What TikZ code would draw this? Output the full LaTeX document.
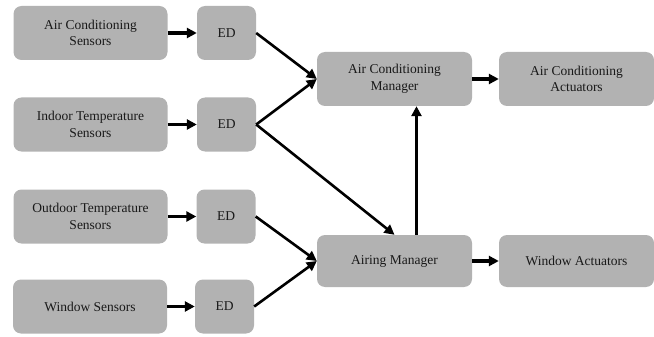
\documentclass[tikz,border=0pt]{standalone}
\usepackage{fontspec}
\setmainfont{Liberation Serif}
\newfontfamily\boxfont{Liberation Serif}
\usetikzlibrary{arrows.meta}
\begin{document}
\begin{tikzpicture}[x=1pt,y=-1pt,
  box/.style={fill=black!30,rounded corners=8pt,align=center,inner sep=0pt,
    minimum height=54pt,text=black!90,font=\boxfont\fontsize{13.5}{16.5}\selectfont},
  sensor/.style={box,minimum width=154pt},
  ed/.style={box,minimum width=59pt},
  manager/.style={box,minimum width=155pt},
  link/.style={draw,line width=2.6pt,-{Triangle[length=10pt,width=10pt]}}]
\useasboundingbox (0,0) rectangle (654,337);

\node[sensor] (acs) at (90.5,33) {Air Conditioning\\Sensors};
\node[sensor] (its) at (90.5,124.5) {Indoor Temperature\\Sensors};
\node[sensor] (ots) at (90.5,216.5) {Outdoor Temperature\\Sensors};
\node[sensor] (ws) at (90,306.5) {Window Sensors};

\node[ed] (ed1) at (226.5,33) {ED};
\node[ed] (ed2) at (226.5,124.5) {ED};
\node[ed] (ed3) at (226,216.5) {ED};
\node[ed] (ed4) at (224.5,306.5) {ED};

\node[manager] (acm) at (394.5,79) {Air Conditioning\\Manager};
\node[manager] (aca) at (576.5,79) {Air Conditioning\\Actuators};
\node[manager,minimum height=52pt] (am) at (394.5,261) {Airing Manager};
\node[manager,minimum height=52pt] (wa) at (576.5,261) {Window Actuators};

\path[link,line width=3.2pt] (acs) -- (ed1);
\path[link,line width=3.2pt] (its) -- (ed2);
\path[link,line width=3.2pt] (ots) -- (ed3);
\path[link,line width=3.2pt] (ws) -- (ed4);

\path[link] (ed1.east) -- (acm.west);
\path[link] (ed2.east) -- (acm.west);
\path[link] (ed2.east) -- (am.north);
\path[link] (ed3.east) -- (am.west);
\path[link] (ed4.east) -- (am.west);

\path[link] ([xshift=22pt]am.north) -- ([xshift=22pt]acm.south);
\path[link,line width=3.2pt] (acm) -- (aca);
\path[link,line width=3.2pt] (am) -- (wa);
\end{tikzpicture}
\end{document}
